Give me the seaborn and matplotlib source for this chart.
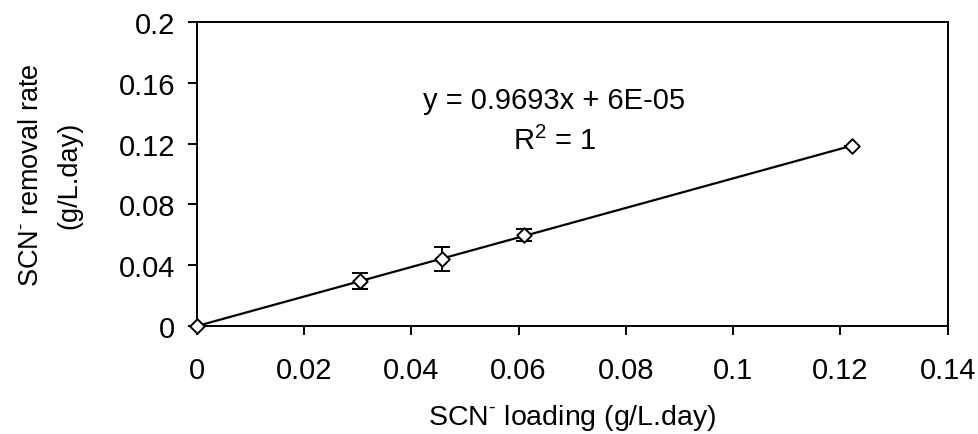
import numpy as np
import pandas as pd
import matplotlib
matplotlib.use('Agg')
import matplotlib.pyplot as plt
import seaborn as sns

# Data
loading = [0.0, 0.0305, 0.0457, 0.0610, 0.1221]
removal = [0.0, 0.0296, 0.0440, 0.0599, 0.1185]
removal_err = [0.0, 0.0055, 0.0080, 0.0040, 0.0]

x_ticks = [0, 0.02, 0.04, 0.06, 0.08, 0.1, 0.12, 0.14]
y_ticks = [0, 0.04, 0.08, 0.12, 0.16, 0.2]

eq_text = "y = 0.9693x + 6E-05"
r2_text = "R$^{2}$ = 1"

sns.set_theme(style="ticks")
plt.rcParams['font.family'] = ['Liberation Sans', 'DejaVu Sans']
plt.rcParams['mathtext.fontset'] = 'custom'
plt.rcParams['mathtext.rm'] = 'Liberation Sans'
plt.rcParams['text.color'] = 'black'
plt.rcParams['axes.labelcolor'] = 'black'

df = pd.DataFrame({'loading': loading, 'removal': removal, 'err': removal_err})

fig = plt.figure(figsize=(9.79, 4.35), dpi=100)
ax = fig.add_axes([0.201, 0.248, 0.767, 0.699])

# linear trendline over the data range
sns.regplot(data=df, x='loading', y='removal', ax=ax, ci=None, scatter=False,
            truncate=True, color='black', line_kws={'lw': 1.6})

ax.errorbar(df['loading'], df['removal'], yerr=df['err'], fmt='none',
            ecolor='black', elinewidth=1.4, capsize=6, capthick=1.4, zorder=3)
sns.scatterplot(data=df, x='loading', y='removal', ax=ax, marker='D', s=55,
                facecolor='white', edgecolor='black', linewidth=1.4, zorder=4)
for c in ax.collections:
    c.set_clip_on(False)

ax.set_xlim(0, 0.14)
ax.set_ylim(0, 0.2)
ax.set_xticks(x_ticks)
ax.set_yticks(y_ticks)
ax.set_xticklabels([f"{v:g}" for v in x_ticks])
ax.set_yticklabels([f"{v:g}" for v in y_ticks])
ax.tick_params(direction='out', length=6.5, width=1.4, labelsize=21,
               colors='black')
ax.tick_params(axis='x', pad=15)
ax.tick_params(axis='y', pad=9)
for s in ax.spines.values():
    s.set_linewidth(1.4)
    s.set_color('black')

ax.set_xlabel("SCN$^{\\text{-}}$ loading (g/L.day)", fontsize=20.5, labelpad=13)
ax.set_ylabel("SCN$^{\\text{-}}$ removal rate\n(g/L.day)", fontsize=19.5,
              labelpad=26, linespacing=1.65)

ax.text(0.0667, 0.1487, eq_text, fontsize=21, ha='center', va='center')
ax.text(0.0667, 0.1224, r2_text, fontsize=21, ha='center', va='center')

fig.savefig('out.png', dpi=100)
